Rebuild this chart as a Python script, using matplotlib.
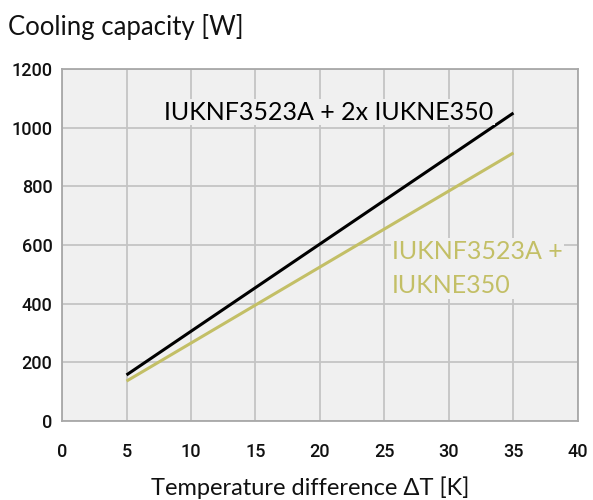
import matplotlib
matplotlib.use("Agg")
import matplotlib.pyplot as plt

# data
delta_t = [5, 35]
cap_double = [157, 1050]   # IUKNF3523A + 2x IUKNE350
cap_single = [136, 914]    # IUKNF3523A + IUKNE350

x_ticks = [0, 5, 10, 15, 20, 25, 30, 35, 40]
y_ticks = [0, 200, 400, 600, 800, 1000, 1200]

olive = "#c3bf66"

fig = plt.figure(figsize=(5.93, 5.0), dpi=100)
ax = fig.add_axes([0.1046, 0.158, 0.870, 0.704])
ax.set_facecolor("#f0f0f0")

ax.plot(delta_t, cap_double, color="black", linewidth=2.2, solid_capstyle="butt", zorder=3)
ax.plot(delta_t, cap_single, color=olive, linewidth=2.2, solid_capstyle="butt", zorder=3)

ax.set_xlim(0, 40)
ax.set_ylim(0, 1200)
ax.set_xticks(x_ticks)
ax.set_yticks(y_ticks)
ax.grid(True, color="#c4c4c4", linewidth=1.3)
ax.set_axisbelow(True)
for s in ax.spines.values():
    s.set_color("#a8a8a8")
    s.set_linewidth(1.3)

ax.tick_params(length=0, labelsize=13, colors="#111111")
ax.tick_params(axis="x", pad=16)
ax.tick_params(axis="y", pad=7)
for lab in ax.get_xticklabels() + ax.get_yticklabels():
    lab.set_fontfamily("Roboto")
    lab.set_fontweight("medium")

ax.text(20.7, 1052, "IUKNF3523A + 2x IUKNE350", fontsize=18, family="Lato",
        color="black", ha="center", va="center", zorder=4,
        bbox=dict(facecolor="#f0f0f0", edgecolor="none", pad=1))
ax.text(25.6, 520, "IUKNF3523A +\nIUKNE350", fontsize=18, family="Lato",
        color=olive, ha="left", va="center", linespacing=1.6, zorder=4,
        bbox=dict(facecolor="#f0f0f0", edgecolor="none", pad=1))

fig.text(0.013, 0.946, "Cooling capacity [W]", fontsize=18.5, family="Lato",
         ha="left", va="center", color="#111111")
fig.text(0.523, 0.024, "Temperature difference \u0394T [K]", fontsize=17, family="Lato",
         ha="center", va="center", color="#111111")

fig.savefig("out.png", dpi=100)
